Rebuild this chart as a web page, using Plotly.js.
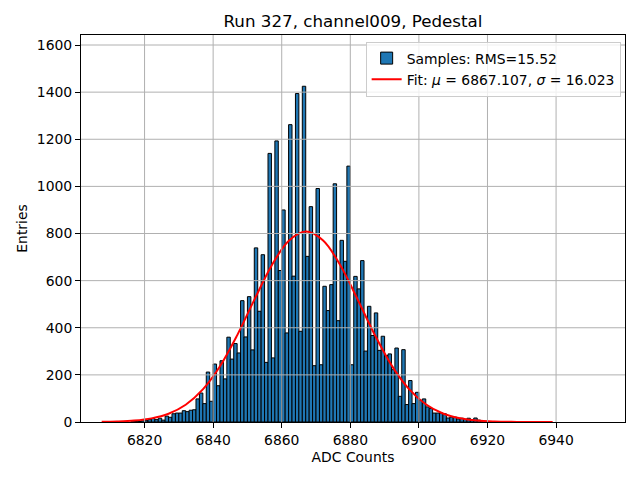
<!DOCTYPE html>
<html>
<head>
<meta charset="utf-8">
<script src="https://cdn.plot.ly/plotly-3.0.1.min.js"></script>
<style>html,body{margin:0;padding:0;background:#fff;}#chart{width:640px;height:480px;}</style>
</head>
<body>
<div id="chart"></div>
<script>
// ADC code (left edge of each 1-count bin) and entries per bin
const adcCodes = [6816,6817,6818,6819,6820,6821,6822,6823,6824,6825,6826,6827,6828,6829,6830,6831,6832,6833,6834,6835,
  6836,6837,6838,6839,6840,6841,6842,6843,6844,6845,6846,6847,6848,6849,6850,6851,6852,6853,6854,6855,
  6856,6857,6858,6859,6860,6861,6862,6863,6864,6865,6866,6867,6868,6869,6870,6871,6872,6873,6874,6875,
  6876,6877,6878,6879,6880,6881,6882,6883,6884,6885,6886,6887,6888,6889,6890,6891,6892,6893,6894,6895,
  6896,6897,6898,6899,6900,6901,6902,6903,6904,6905,6906,6907,6908,6909,6910,6911,6912,6913,6914,6915,
  6916,6917,6918,6919,6920,6921];
const counts = [1,2,2,5,7,10,15,10,16,8,25,20,35,38,38,48,44,50,52,98,
  123,78,212,88,246,154,260,183,360,267,333,293,515,361,532,306,739,470,710,253,
  1140,272,1193,643,900,378,1262,619,1394,385,1425,703,914,239,991,243,576,473,583,1011,
  430,771,682,1086,243,618,565,685,301,491,367,463,304,364,282,289,222,314,109,307,
  74,176,78,126,92,98,64,57,38,38,38,35,17,21,21,13,16,10,16,10,
  17,8,4,2,2,1];

// Fitted Gaussian curve
const fitX = [6807.5,6812,6817,6822,6827,6832,6837,6842,6847,6852,6857,6862,6867,6872,6877,6882,6887,6892,6897,6902,6907,6912,6917,6922,6927,6932,6939];
const fitY = [0.8,2.2,6.1,15.4,35.2,73.3,138.3,236.7,367.8,518.2,662.3,768.1,808,771.1,667.5,524.3,373.5,241.4,141.6,75.3,36.3,15.9,6.3,2.3,0.7,0.2,0.0];

const xTicks = [6820,6840,6860,6880,6900,6920,6940];
const yTicks = [0,200,400,600,800,1000,1200,1400,1600];

const titleText = 'Run 327, channel009, Pedestal';
const sampleLabel = 'Samples: RMS=15.52';
const fitLabel = 'Fit: <i>μ</i> = 6867.107, <i>σ</i> = 16.023';

const FONT = 'DejaVu Sans, sans-serif';

const traces = [
  {
    type: 'bar', x: adcCodes, y: counts, width: 1, offset: 0,
    name: sampleLabel,
    marker: {color: '#1f77b4', line: {color: '#000000', width: 1}}
  },
  {
    type: 'scatter', mode: 'lines', x: fitX, y: fitY,
    name: fitLabel,
    line: {color: '#ff0000', width: 2, shape: 'spline'}
  }
];

const shapes = [];
xTicks.forEach(t => shapes.push({type:'line', xref:'x', yref:'paper', x0:t, x1:t, y0:0, y1:1,
  line:{color:'#b0b0b0', width:1}, layer:'above'}));
yTicks.filter(t => t > 0).forEach(t => shapes.push({type:'line', xref:'paper', yref:'y', x0:0, x1:1, y0:t, y1:t,
  line:{color:'#b0b0b0', width:1}, layer:'above'}));

const layout = {
  width: 640, height: 480,
  margin: {l: 81, r: 15, t: 35, b: 58, pad: 0},
  paper_bgcolor: '#ffffff', plot_bgcolor: '#ffffff',
  font: {family: FONT, size: 13.9, color: '#000000'},
  title: {text: titleText, font: {family: FONT, size: 16.7, color: '#000'},
          x: 0.5, xref: 'paper', xanchor: 'center', y: 0.956, yref: 'container', yanchor: 'middle'},
  bargap: 0,
  showlegend: true,
  legend: {x: 0.992, y: 0.983, xanchor: 'right', yanchor: 'top',
           bgcolor: 'rgba(255,255,255,0.8)', bordercolor: '#cccccc', borderwidth: 1,
           font: {family: FONT, size: 13.9, color: '#000'}, tracegroupgap: 0},
  xaxis: {
    range: [6801.47, 6960.1], tickvals: xTicks, ticktext: xTicks.map(String),
    showgrid: false, zeroline: false,
    showline: true, linecolor: '#000', linewidth: 1, mirror: true,
    ticks: 'outside', ticklen: 5, tickcolor: '#000', tickwidth: 1,
    tickfont: {family: FONT, size: 13.9, color: '#000'},
    title: {text: 'ADC Counts', font: {family: FONT, size: 13.9, color: '#000'}, standoff: 5},
    automargin: false
  },
  yaxis: {
    range: [0, 1642.5], tickvals: yTicks, ticktext: yTicks.map(String),
    showgrid: false, zeroline: false,
    showline: true, linecolor: '#000', linewidth: 1, mirror: true,
    ticks: 'outside', ticklen: 5, tickcolor: '#000', tickwidth: 1,
    tickfont: {family: FONT, size: 13.9, color: '#000'},
    title: {text: 'Entries', font: {family: FONT, size: 13.9, color: '#000'}, standoff: 5},
    automargin: false
  },
  shapes: shapes
};

Plotly.newPlot('chart', traces, layout, {staticPlot: true, displayModeBar: false});
</script>
</body>
</html>
